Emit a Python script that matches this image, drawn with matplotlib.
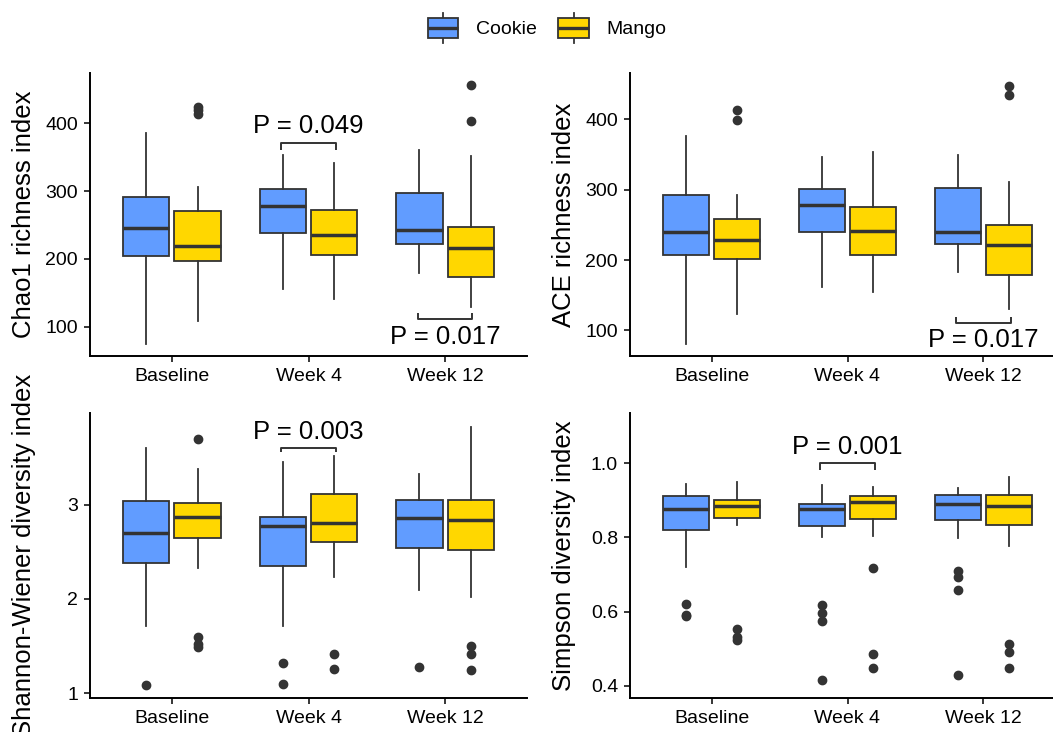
import matplotlib
matplotlib.use("Agg")
import matplotlib.pyplot as plt
from matplotlib.patches import Rectangle, Patch
from matplotlib.lines import Line2D
from matplotlib.legend_handler import HandlerBase

plt.rcParams["font.family"] = ["Liberation Sans", "DejaVu Sans"]

# ---------------- data ----------------
timepoints = ["Baseline", "Week 4", "Week 12"]
groups = ["Cookie", "Mango"]
group_colors = ["#619CFF", "#FFD700"]

# per timepoint: [whisker low, Q1, median, Q3, whisker high]
chao1_cookie = [[75, 204, 246, 292, 386], [156, 238, 278, 303, 353], [180, 222, 243, 297, 361]]
chao1_mango = [[108, 197, 219, 270, 306], [141, 206, 236, 272, 342], [129, 174, 216, 247, 352]]
chao1_cookie_out = [[], [], []]
chao1_mango_out = [[424, 419, 414], [], [456, 403]]

ace_cookie = [[81, 207, 240, 292, 376], [162, 240, 278, 301, 346], [183, 223, 240, 303, 349]]
ace_mango = [[123, 201, 228, 258, 293], [154, 207, 241, 275, 353], [130, 179, 221, 250, 311]]
ace_cookie_out = [[], [], []]
ace_mango_out = [[414, 399], [], [448, 434]]

shannon_cookie = [[1.71, 2.38, 2.705, 3.04, 3.61], [1.71, 2.35, 2.775, 2.875, 3.455], [2.09, 2.545, 2.865, 3.057, 3.327]]
shannon_mango = [[2.325, 2.648, 2.876, 3.018, 3.38], [2.236, 2.606, 2.812, 3.117, 3.519], [2.02, 2.517, 2.844, 3.05, 3.828]]
shannon_cookie_out = [[1.082], [1.323, 1.092], [1.274]]
shannon_mango_out = [[3.70, 1.597, 1.526, 1.49], [1.412, 1.259], [1.497, 1.412, 1.245]]

simpson_cookie = [[0.721, 0.82, 0.877, 0.91, 0.945], [0.80, 0.83, 0.877, 0.889, 0.942], [0.799, 0.846, 0.89, 0.914, 0.932]]
simpson_mango = [[0.832, 0.852, 0.884, 0.901, 0.95], [0.803, 0.85, 0.895, 0.91, 0.935], [0.777, 0.832, 0.885, 0.914, 0.962]]
simpson_cookie_out = [[0.619, 0.592, 0.588], [0.617, 0.595, 0.575, 0.416], [0.709, 0.692, 0.659, 0.429]]
simpson_mango_out = [[0.554, 0.532, 0.524], [0.716, 0.486, 0.449], [0.512, 0.49, 0.449]]

# significance: (timepoint index, label, bracket level, bracket tip, text baseline)
chao1_sig = [(1, "P = 0.049", 370.5, 361, 385.2), (2, "P = 0.017", 111, 120, 75.3)]
ace_sig = [(2, "P = 0.017", 111, 119.4, 76.8)]
shannon_sig = [(1, "P = 0.003", 3.604, 3.558, 3.703)]
simpson_sig = [(1, "P = 0.001", 1.001, 0.982, 1.024)]

panel_ylabels = ["Chao1 richness index", "ACE richness index",
                 "Shannon-Wiener diversity index", "Simpson diversity index"]
panel_ylims = [(57, 474), (63.5, 466), (0.947, 3.977), (0.367, 1.135)]
panel_yticks = [[100, 200, 300, 400], [100, 200, 300, 400], [1, 2, 3], [0.4, 0.6, 0.8, 1.0]]
panel_yticklabels = [["100", "200", "300", "400"], ["100", "200", "300", "400"],
                     ["1", "2", "3"], ["0.4", "0.6", "0.8", "1.0"]]

panels = [
    (chao1_cookie, chao1_mango, chao1_cookie_out, chao1_mango_out, chao1_sig),
    (ace_cookie, ace_mango, ace_cookie_out, ace_mango_out, ace_sig),
    (shannon_cookie, shannon_mango, shannon_cookie_out, shannon_mango_out, shannon_sig),
    (simpson_cookie, simpson_mango, simpson_cookie_out, simpson_mango_out, simpson_sig),
]

# ---------------- layout ----------------
W, H = 1053, 732
fig = plt.figure(figsize=(W / 100, H / 100), dpi=100)
fig.patch.set_facecolor("white")

def rect(l, t, r, b):
    return [l / W, 1 - b / H, (r - l) / W, (b - t) / H]

panel_rects = [rect(90, 73, 527, 356), rect(630, 73, 1065, 356),
               rect(90, 413, 527, 698), rect(630, 413, 1065, 698)]

EDGE = "#333333"
dodge = 0.1875
bw = 0.3375

for i, (cookie, mango, cookie_out, mango_out, sig) in enumerate(panels):
    ax = fig.add_axes(panel_rects[i])
    for g, (summ, outs) in enumerate([(cookie, cookie_out), (mango, mango_out)]):
        stats = []
        for s, o in zip(summ, outs):
            stats.append(dict(whislo=s[0], q1=s[1], med=s[2], q3=s[3], whishi=s[4], fliers=o))
        pos = [k + 1 + (-dodge if g == 0 else dodge) for k in range(len(timepoints))]
        ax.bxp(stats, positions=pos, widths=bw, patch_artist=True, showcaps=False,
               boxprops=dict(facecolor=group_colors[g], edgecolor=EDGE, linewidth=1.3),
               medianprops=dict(color=EDGE, linewidth=2.5, solid_capstyle="butt"),
               whiskerprops=dict(color=EDGE, linewidth=1.3),
               flierprops=dict(marker="o", markerfacecolor=EDGE, markeredgecolor=EDGE,
                               markersize=6, linestyle="none"))
    for (t, lab, lvl, tip, ty) in sig:
        x0, x1 = t + 1 - 0.2, t + 1 + 0.2
        ax.plot([x0, x0, x1, x1], [tip, lvl, lvl, tip], color=EDGE, lw=1.4, solid_capstyle="butt")
        ax.text(t + 1, ty, lab, ha="center", va="baseline", fontsize=18.5, color="black")

    ax.set_xlim(0.4, 3.6)
    ax.set_ylim(*panel_ylims[i])
    ax.set_xticks([1, 2, 3])
    ax.set_xticklabels(timepoints)
    ax.set_yticks(panel_yticks[i])
    ax.set_yticklabels(panel_yticklabels[i])
    for side in ["top", "right"]:
        ax.spines[side].set_visible(False)
    for side in ["left", "bottom"]:
        ax.spines[side].set_linewidth(1.4)
        ax.spines[side].set_color("black")
    ax.tick_params(axis="both", length=4.3, width=1.1, pad=4.3, labelsize=14,
                   colors="black")
    ax.set_ylabel(panel_ylabels[i], fontsize=18.5)
    ax.yaxis.label.set_va("center")
    ax.yaxis.set_label_coords(-66 / 437, 0.5)

# ---------------- legend ----------------
class BoxKey(HandlerBase):
    def create_artists(self, legend, orig_handle, xdescent, ydescent, width, height, fontsize, trans):
        # fixed key geometry in points: 22pt wide, 22pt whisker span, 15pt box
        kw, kh, bh = 22.0, 22.0, 15.0
        x0 = -xdescent + (width - kw) / 2
        yc = -ydescent + height / 2
        fc = orig_handle.get_facecolor()
        by = yc - bh / 2
        cx = x0 + kw / 2
        w1 = Line2D([cx, cx], [yc - kh / 2, by], color=EDGE, lw=1.3, transform=trans)
        w2 = Line2D([cx, cx], [by + bh, yc + kh / 2], color=EDGE, lw=1.3, transform=trans)
        r = Rectangle((x0, by), kw, bh, facecolor=fc, edgecolor=EDGE, lw=1.3, transform=trans)
        m = Line2D([x0, x0 + kw], [yc, yc], color=EDGE, lw=2.4,
                   solid_capstyle="butt", transform=trans)
        return [w1, w2, r, m]

handles = [Patch(facecolor=c) for c in group_colors]
fig.legend(handles, groups, loc="center", bbox_to_anchor=(547 / W, 1 - 28 / H), ncol=2,
           frameon=False, fontsize=14, handlelength=1.6, handleheight=1.6,
           handletextpad=0.9, columnspacing=1.1,
           handler_map={Patch: BoxKey()})

fig.savefig("out.png", dpi=100)
